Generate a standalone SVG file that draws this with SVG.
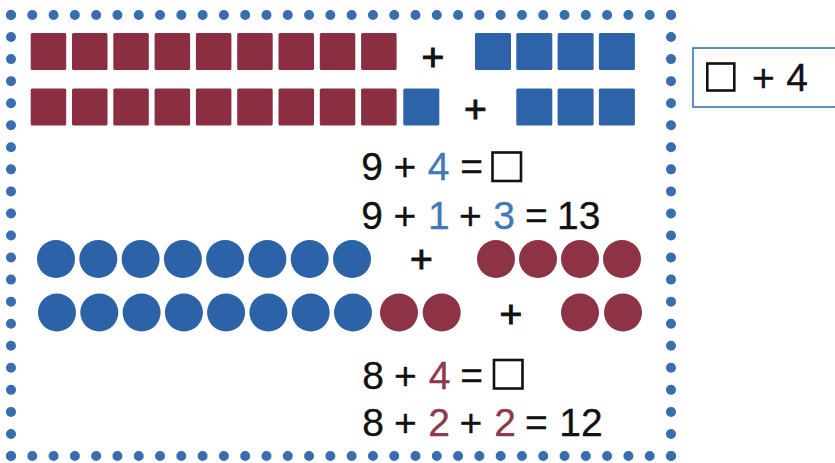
<svg xmlns="http://www.w3.org/2000/svg" width="835" height="463" viewBox="0 0 835 463">
<style>
  .dot { stroke: #3a6db0; stroke-width: 10; stroke-linecap: round; fill: none; }
  .rs { fill: #8b2e42; }
  .bs { fill: #2d64a9; }
  .rc { fill: #8e3346; }
  .bc { fill: #2b62a8; }
  .t { font-family: "Liberation Sans", Arial, sans-serif; font-size: 39px; fill: #111; text-anchor: middle; stroke: #111; stroke-width: 0.3; }
  .p { stroke-width: 1; }
  .tb { fill: #4179b6; stroke: #4179b6; }
  .tr { fill: #8e3a4d; stroke: #8e3a4d; }
  .box { fill: none; stroke: #111; stroke-width: 2.6; }
</style>
<rect width="835" height="463" fill="#ffffff"/>
<g id="border">
  <line class="dot" x1="11" y1="15" x2="671" y2="15" stroke-dasharray="0 21.2903"/>
  <line class="dot" x1="11" y1="456" x2="671" y2="456" stroke-dasharray="0 21.2903"/>
  <line class="dot" x1="11" y1="15" x2="11" y2="456" stroke-dasharray="0 22.05"/>
  <line class="dot" x1="671" y1="15" x2="671" y2="456" stroke-dasharray="0 22.05"/>
</g>
<g id="squares-row1">
  <rect class="rs" x="30.7" y="33" width="35.5" height="37" rx="1.5"/>
  <rect class="rs" x="72" y="33" width="35.5" height="37" rx="1.5"/>
  <rect class="rs" x="113.3" y="33" width="35.5" height="37" rx="1.5"/>
  <rect class="rs" x="154.6" y="33" width="35.5" height="37" rx="1.5"/>
  <rect class="rs" x="195.9" y="33" width="35.5" height="37" rx="1.5"/>
  <rect class="rs" x="237.2" y="33" width="35.5" height="37" rx="1.5"/>
  <rect class="rs" x="278.5" y="33" width="35.5" height="37" rx="1.5"/>
  <rect class="rs" x="319.8" y="33" width="35.5" height="37" rx="1.5"/>
  <rect class="rs" x="361.1" y="33" width="35.5" height="37" rx="1.5"/>
  <text class="t p" x="432.8" y="69.7">+</text>
  <rect class="bs" x="475" y="33" width="36" height="37" rx="1.5"/>
  <rect class="bs" x="516.3" y="33" width="36" height="37" rx="1.5"/>
  <rect class="bs" x="557.6" y="33" width="36" height="37" rx="1.5"/>
  <rect class="bs" x="598.9" y="33" width="36" height="37" rx="1.5"/>
</g>
<g id="squares-row2">
  <rect class="rs" x="30.7" y="88.5" width="35.5" height="37" rx="1.5"/>
  <rect class="rs" x="72" y="88.5" width="35.5" height="37" rx="1.5"/>
  <rect class="rs" x="113.3" y="88.5" width="35.5" height="37" rx="1.5"/>
  <rect class="rs" x="154.6" y="88.5" width="35.5" height="37" rx="1.5"/>
  <rect class="rs" x="195.9" y="88.5" width="35.5" height="37" rx="1.5"/>
  <rect class="rs" x="237.2" y="88.5" width="35.5" height="37" rx="1.5"/>
  <rect class="rs" x="278.5" y="88.5" width="35.5" height="37" rx="1.5"/>
  <rect class="rs" x="319.8" y="88.5" width="35.5" height="37" rx="1.5"/>
  <rect class="rs" x="361.1" y="88.5" width="35.5" height="37" rx="1.5"/>
  <rect class="bs" x="403.3" y="88.5" width="36" height="37" rx="1.5"/>
  <text class="t p" x="475.5" y="121.7">+</text>
  <rect class="bs" x="516.3" y="88.5" width="36" height="37" rx="1.5"/>
  <rect class="bs" x="557.6" y="88.5" width="36" height="37" rx="1.5"/>
  <rect class="bs" x="598.9" y="88.5" width="36" height="37" rx="1.5"/>
</g>
<g id="hint-box">
  <rect x="693" y="48" width="160" height="59" fill="none" stroke="#3b72b3" stroke-width="1.6"/>
  <rect class="box" x="707.3" y="63.5" width="27" height="27"/>
  <text class="t" x="763.5" y="91">+</text>
  <text class="t" x="797" y="91">4</text>
</g>
<g id="equation1">
  <text class="t" x="372.2" y="180">9</text>
  <text class="t" x="405" y="180">+</text>
  <text class="t tb" x="438.5" y="180">4</text>
  <text class="t" x="471.7" y="180">=</text>
  <rect class="box" x="492.5" y="152.5" width="28.5" height="28.5"/>
</g>
<g id="equation2">
  <text class="t" x="372.2" y="228.5">9</text>
  <text class="t" x="405" y="228.5">+</text>
  <text class="t tb" x="438.8" y="228.5">1</text>
  <text class="t" x="470.5" y="228.5">+</text>
  <text class="t tb" x="504" y="228.5">3</text>
  <text class="t" x="536.3" y="228.5">=</text>
  <text class="t" x="578.7" y="228.5">13</text>
</g>
<g id="circles-row1">
  <circle class="bc" cx="56" cy="259" r="19"/>
  <circle class="bc" cx="98.3" cy="259" r="19"/>
  <circle class="bc" cx="140.6" cy="259" r="19"/>
  <circle class="bc" cx="182.9" cy="259" r="19"/>
  <circle class="bc" cx="225.1" cy="259" r="19"/>
  <circle class="bc" cx="267.4" cy="259" r="19"/>
  <circle class="bc" cx="309.7" cy="259" r="19"/>
  <circle class="bc" cx="352" cy="259" r="19"/>
  <text class="t p" x="421.3" y="271.7">+</text>
  <circle class="rc" cx="496" cy="259" r="19"/>
  <circle class="rc" cx="538" cy="259" r="19"/>
  <circle class="rc" cx="580" cy="259" r="19"/>
  <circle class="rc" cx="622" cy="259" r="19"/>
</g>
<g id="circles-row2">
  <circle class="bc" cx="57" cy="312.5" r="19"/>
  <circle class="bc" cx="99.3" cy="312.5" r="19"/>
  <circle class="bc" cx="141.6" cy="312.5" r="19"/>
  <circle class="bc" cx="183.9" cy="312.5" r="19"/>
  <circle class="bc" cx="226.1" cy="312.5" r="19"/>
  <circle class="bc" cx="268.4" cy="312.5" r="19"/>
  <circle class="bc" cx="310.7" cy="312.5" r="19"/>
  <circle class="bc" cx="353" cy="312.5" r="19"/>
  <circle class="rc" cx="399" cy="312.5" r="19"/>
  <circle class="rc" cx="441.7" cy="312.5" r="19"/>
  <text class="t p" x="510.8" y="327">+</text>
  <circle class="rc" cx="580" cy="312.5" r="19"/>
  <circle class="rc" cx="623" cy="312.5" r="19"/>
</g>
<g id="equation3">
  <text class="t" x="373" y="388.5">8</text>
  <text class="t" x="405.5" y="388.5">+</text>
  <text class="t tr" x="439.5" y="388.5">4</text>
  <text class="t" x="471.7" y="388.5">=</text>
  <rect class="box" x="494" y="360" width="28.5" height="28.5"/>
</g>
<g id="equation4">
  <text class="t" x="373" y="435.5">8</text>
  <text class="t" x="405.5" y="435.5">+</text>
  <text class="t tr" x="439" y="435.5">2</text>
  <text class="t" x="470.8" y="435.5">+</text>
  <text class="t tr" x="505" y="435.5">2</text>
  <text class="t" x="536.3" y="435.5">=</text>
  <text class="t" x="581" y="435.5">12</text>
</g>
</svg>
